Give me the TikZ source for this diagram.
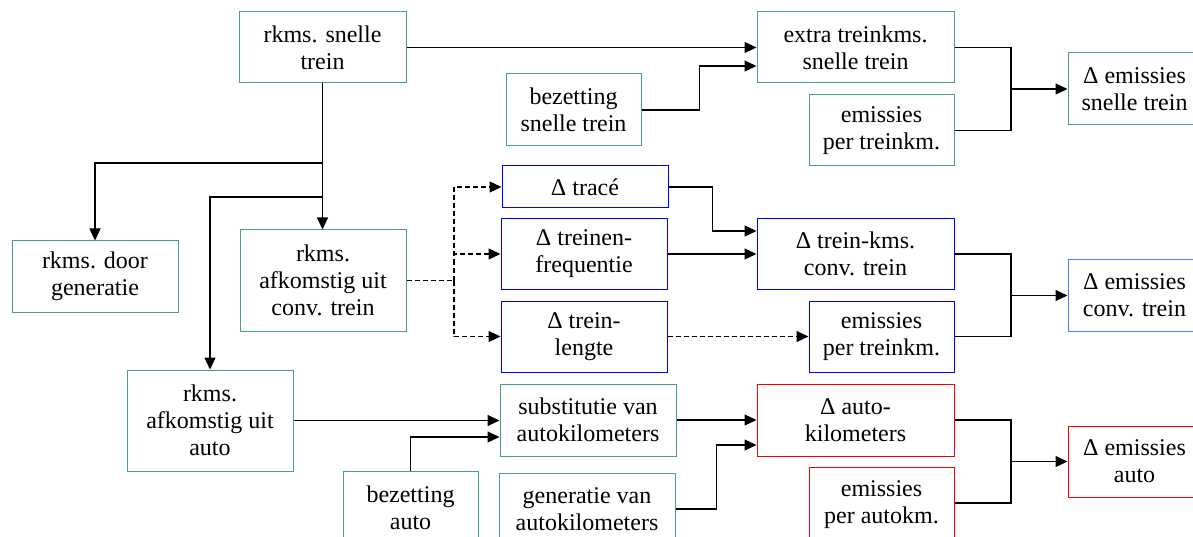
\documentclass[tikz,border=0pt]{standalone}
\usepackage{fontspec}
\setmainfont{Liberation Serif}
\usetikzlibrary{arrows.meta}
\definecolor{gboxc}{RGB}{70,163,110}
\definecolor{bboxc}{RGB}{0,0,255}
\definecolor{lbboxc}{RGB}{75,125,255}
\definecolor{rboxc}{RGB}{255,0,0}
\tikzset{
  box/.style={draw, line width=1pt, inner sep=0pt, align=center, font=\fontsize{24}{27}\selectfont},
  gbox/.style={box, draw=gboxc},
  bbox/.style={box, draw=bboxc},
  lbbox/.style={box, draw=lbboxc},
  rbox/.style={box, draw=rboxc},
  sz/.style 2 args={minimum width=#1pt, minimum height=#2pt},
  conn/.style={line width=1.1pt},
  arr/.style={conn, -{Triangle[length=12pt,width=11pt]}},
  dsh/.style={dash pattern=on 5pt off 3pt}
}
\begin{document}
\begin{tikzpicture}[x=1pt,y=-1pt]
\useasboundingbox (0,0) rectangle (1193,537);
% nodes
\node[gbox, sz={167}{71}] (rsn) at (322.5,47.5) {rkms. snelle\\trein};
\node[gbox, sz={166}{71}] (gen) at (95,276.5) {rkms. door\\generatie};
\node[gbox, sz={166}{101}] (rct) at (323,280.5) {rkms.\\afkomstig uit\\conv. trein};
\node[gbox, sz={166}{101}] (rau) at (210,420.5) {rkms.\\afkomstig uit\\auto};
\node[gbox, sz={135}{72}] (bst) at (573.5,110) {bezetting\\snelle trein};
\node[gbox, sz={197}{71}] (ext) at (855.5,47.5) {extra treinkms.\\snelle trein};
\node[gbox, sz={145}{71}] (ept1) at (881.5,130.5) {emissies\\per treinkm.};
\node[gbox, sz={133}{72}] (est) at (1134.5,89) {Δ emissies\\snelle trein};
\node[bbox, sz={166}{42}] (tra) at (585,187) {Δ tracé};
\node[bbox, sz={166}{70}] (frq) at (584,254) {Δ treinen-\\frequentie};
\node[bbox, sz={166}{71}] (lng) at (584,336.5) {Δ trein-\\lengte};
\node[bbox, sz={197}{70}] (tkm) at (855.5,254) {Δ trein-kms.\\conv. trein};
\node[bbox, sz={145}{71}] (ept2) at (881.5,336.5) {emissies\\per treinkm.};
\node[lbbox, sz={133}{71}] (ect) at (1134.5,295.5) {Δ emissies\\conv. trein};
\node[gbox, sz={176}{72}] (sub) at (588,420) {substitutie van\\autokilometers};
\node[gbox, sz={135}{74}] (bau) at (410.5,508) {bezetting\\auto};
\node[gbox, sz={176}{72}] (gva) at (587,509) {generatie van\\autokilometers};
\node[rbox, sz={197}{72}] (akm) at (855.5,420) {Δ auto-\\kilometers};
\node[rbox, sz={145}{76}] (epa) at (881.5,505) {emissies\\per autokm.};
\node[rbox, sz={133}{71}] (eau) at (1134.5,461.5) {Δ emissies\\auto};
% junction coordinates
\coordinate (j1) at (322.5,163);
\coordinate (j2) at (322.5,197);
\coordinate (d1) at (454,280.5);
\coordinate (m1) at (1011,89);
\coordinate (m2) at (1011,295.5);
\coordinate (m3) at (1011,461.5);
% connectors
\draw[arr] (rsn.east) -- (ext.west);
\draw[arr] (bst.east) -- ++(58,0) |- ([yshift=-18.5pt]ext.west);
\draw[arr] (rsn.south) -- (rsn.south |- rct.north);
\draw[arr] (j1) -| (gen.north);
\draw[arr] (j2) -| (rau.north);
\draw[conn,dsh] (rct.east) -- (d1);
\draw[arr,dsh] (d1) |- (tra.west);
\draw[arr,dsh] (d1) |- (frq.west);
\draw[arr,dsh] (d1) |- (lng.west);
\draw[arr] (tra.east) -- ++(44,0) |- ([yshift=23pt]tkm.west);
\draw[arr] (frq.east) -- (frq.east -| tkm.west);
\draw[arr,dsh] (lng.east) -- (lng.east -| ept2.west);
\draw[conn] (ext.east) -| (m1) |- (ept1.east);
\draw[arr] (m1) -- (est.west);
\draw[conn] (tkm.east) -| (m2) |- (ept2.east);
\draw[arr] (m2) -- (ect.west);
\draw[arr] (rau.east) -- (rau.east -| sub.west);
\draw[arr] (bau.north) |- ([yshift=-17pt]sub.west);
\draw[arr] (sub.east) -- (sub.east -| akm.west);
\draw[arr] (gva.east) -- ++(41,0) |- ([yshift=-25pt]akm.west);
\draw[conn] (akm.east) -| (m3) |- ([yshift=2pt]epa.east);
\draw[arr] (m3) -- (eau.west);
\end{tikzpicture}
\end{document}
